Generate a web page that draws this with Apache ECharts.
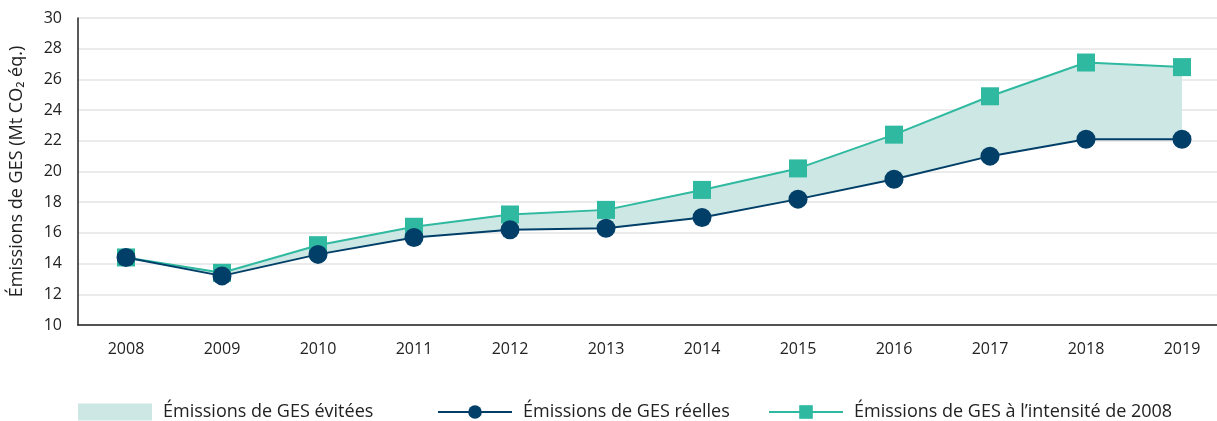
<!DOCTYPE html>
<html lang="fr">
<head>
    <meta charset="UTF-8"/>
    <title>GES</title>
    <script src="https://cdn.jsdelivr.net/npm/echarts@6/dist/echarts.min.js"></script>
</head>
<body style="margin:0">
<div id="main" style="width:1217px;height:421px;"></div>
<script type="text/javascript">
    var years = ['2008', '2009', '2010', '2011', '2012', '2013', '2014', '2015', '2016', '2017', '2018', '2019'];
    var reelles = [14.4, 13.2, 14.6, 15.7, 16.2, 16.3, 17.0, 18.2, 19.5, 21.0, 22.1, 22.1];
    var intensite2008 = [14.4, 13.4, 15.2, 16.4, 17.2, 17.5, 18.8, 20.2, 22.4, 24.9, 27.1, 26.8];

    // écart entre les deux courbes, empilé sur les émissions réelles
    var evitees = intensite2008.map(function (v, i) { return +(v - reelles[i]).toFixed(2); });

    var navy = '#013f69';
    var teal = '#2fb9a0';
    var fill = '#cde8e4';
    var font = 'Open Sans';

    var myChart = echarts.init(document.getElementById('main'));

    var legendText = {fontFamily: font, fontSize: 18, color: '#222', padding: [0, 0, 0, 6]};

    var option = {
        animation: false,
        textStyle: {fontFamily: font},
        // la grille dépasse à droite : la dernière case est coupée
        grid: {left: 78, width: 1152, top: 18, bottom: 96, outerBoundsMode: 'none'},
        legend: [
            {
                left: 73, top: 398, itemWidth: 74, itemHeight: 17,
                textStyle: legendText,
                data: [{name: 'Émissions de GES évitées', icon: 'rect', itemStyle: {color: fill}}]
            },
            {
                left: 432, top: 398, itemWidth: 74, itemHeight: 17,
                textStyle: legendText,
                data: ['Émissions de GES réelles']
            },
            {
                left: 763, top: 398, itemWidth: 74, itemHeight: 17,
                textStyle: legendText,
                data: ['Émissions de GES à l\u2019intensité de 2008']
            }
        ],
        xAxis: {
            type: 'category',
            data: years,
            boundaryGap: true,
            axisLine: {lineStyle: {color: '#222', width: 1.5}},
            axisTick: {inside: true, length: 8, lineStyle: {color: '#222'}},
            axisLabel: {color: '#222', fontSize: 16, margin: 16}
        },
        yAxis: {
            type: 'value',
            min: 10,
            max: 30,
            interval: 2,
            name: 'Émissions de GES (Mt CO\u2082 éq.)',
            nameLocation: 'middle',
            nameGap: 52,
            nameTextStyle: {color: '#222', fontSize: 18, fontFamily: font, padding: [0, 0, 0, 0]},
            axisLine: {show: true, lineStyle: {color: '#222', width: 1.5}},
            axisTick: {show: false},
            axisLabel: {color: '#222', fontSize: 16, margin: 16},
            splitLine: {lineStyle: {color: '#e4e4e4', width: 1.5}}
        },
        series: [
            {
                name: 'base',
                type: 'line',
                stack: 'ecart',
                data: reelles,
                symbol: 'none',
                lineStyle: {opacity: 0},
                silent: true
            },
            {
                name: 'Émissions de GES évitées',
                type: 'line',
                stack: 'ecart',
                data: evitees,
                symbol: 'none',
                lineStyle: {opacity: 0},
                itemStyle: {color: fill},
                areaStyle: {color: fill, opacity: 1}
            },
            {
                name: 'Émissions de GES à l\u2019intensité de 2008',
                type: 'line',
                data: intensite2008,
                symbol: 'rect',
                symbolSize: 18,
                lineStyle: {color: teal, width: 2},
                itemStyle: {color: teal},
                z: 3
            },
            {
                name: 'Émissions de GES réelles',
                type: 'line',
                data: reelles,
                symbol: 'circle',
                symbolSize: 19,
                lineStyle: {color: navy, width: 2},
                itemStyle: {color: navy},
                z: 4
            }
        ]
    };

    myChart.setOption(option);
</script>
</body>
</html>
